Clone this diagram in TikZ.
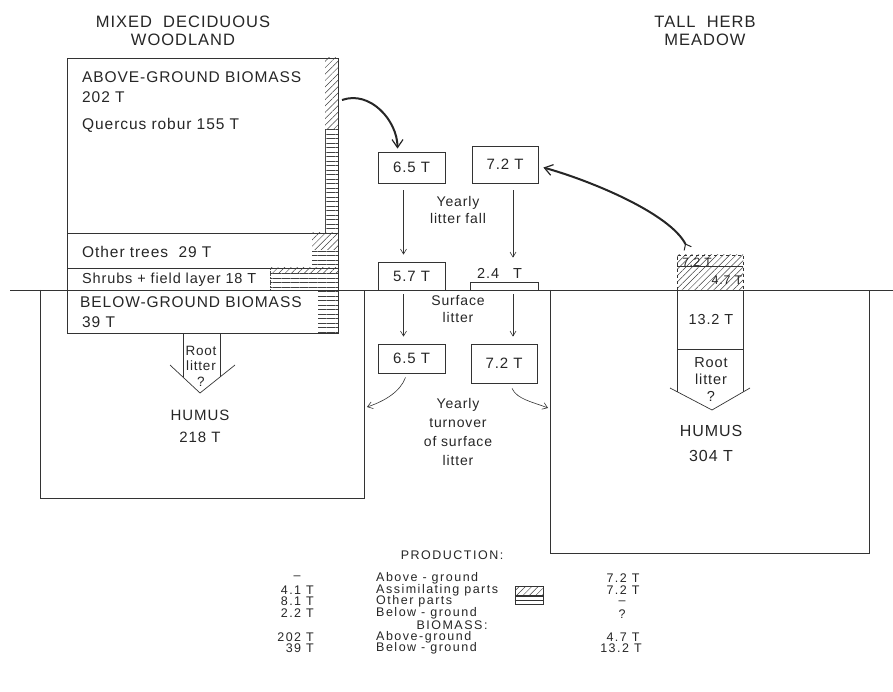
\documentclass[tikz,border=0pt]{standalone}
\usepackage{fontspec}
\setmainfont[LetterSpace=6]{Liberation Sans}
\newfontfamily\legendfont[LetterSpace=12]{Liberation Sans}
\usetikzlibrary{arrows.meta,patterns.meta}

\begin{document}
\begin{tikzpicture}[
  x=1pt, y=-1pt,
  every node/.style={inner sep=0pt, text=black!85},
  title/.style={font=\fontsize{16.5}{18}\selectfont, align=center},
  lbl/.style={font=\fontsize{15.5}{18}\selectfont, anchor=west},
  midlbl/.style={font=\fontsize{14}{17}\selectfont, align=center},
  flux/.style={draw=black!80, line width=0.8pt, minimum width=67pt,
    font=\fontsize{15}{18}\selectfont},
  box/.style={draw=black!80, line width=0.7pt},
  fall/.style={draw=black!80, line width=0.6pt,
    -{Straight Barb[length=5pt,width=6pt]}},
  turn/.style={draw=black!80, line width=0.6pt,
    -{Straight Barb[length=5pt,width=7pt]}},
  bigflow/.style={draw=black!85, line width=2pt,
    -{Straight Barb[length=8pt,width=11pt,line width=1.2pt]}},
  diag/.style={pattern={Lines[angle=45,distance=4.5pt,line width=0.5pt]},
    pattern color=black!75},
  bars/.style={pattern={Lines[angle=0,distance=4.5pt,line width=0.5pt]},
    pattern color=black!75},
  leg/.style={font=\legendfont\fontsize{12.5}{14}\selectfont}
]
\useasboundingbox (0,0) rectangle (893,692);

% ---- Titles ----
\node[title] (tWood) at (183,31) {MIXED\ \ DECIDUOUS\\WOODLAND};
\node[title] (tMead) at (705,31) {TALL\ \ HERB\\MEADOW};

% ground surface
\draw[box] (10,290) -- (893,290);

% ---- LEFT: woodland ----
% biomass box
\draw[box] (67,58) rectangle (338,333);
\draw[box] (67,233) -- (338,233);
\draw[box] (67,268) -- (338,268);

% hatched strip on the right
\fill[diag] (325,58) rectangle (338,130);
\fill[bars] (325,130) rectangle (338,233);
\draw[black!70, line width=0.4pt] (325,130) -- (325,233);
\fill[diag] (312,233) rectangle (338,250);
\fill[bars] (312,250) rectangle (338,268);
\draw[black!70, line width=0.5pt, densely dotted] (270,268) -- (270,290);
\fill[diag] (270,268) rectangle (338,274);
\fill[bars] (270,274) rectangle (338,290);
\fill[bars] (318,290) rectangle (338,333);

\node[lbl] (abvW) at (82,77) {ABOVE-GROUND BIOMASS};
\node[lbl] (abvWval) at (82,97) {202 T};
\node[lbl] (quer) at (82,125) {Quercus robur 155 T};
\node[lbl] (othT) at (82,252) {Other trees\ \ 29 T};
\node[lbl, font=\fontsize{14.5}{17}\selectfont] (shrb) at (82,280)
  {Shrubs + field layer 18 T};
\node[lbl] (belW) at (80,302) {BELOW-GROUND BIOMASS};
\node[lbl] (belWval) at (82,322) {39 T};

% humus box
\draw[box] (40,290) -- (40,498) -- (364,498) -- (364,290);

% root litter arrow
\draw[box] (183,333) -- (183,377);
\draw[box] (220,333) -- (220,377);
\draw[box] (170,365) -- (200,393) -- (235,365);
\node[midlbl, font=\fontsize{13.5}{15.5}\selectfont] (rootW) at (201,366)
  {Root\\litter\\?};

\node[midlbl, font=\fontsize{15}{18}\selectfont] (humW) at (200,415) {HUMUS};
\node[midlbl, font=\fontsize{15}{18}\selectfont] (humWval) at (200,437) {218 T};
\coordinate (wStrip) at (342,100);
\coordinate (wHum) at (367,407);

% ---- Middle: litter fluxes ----
\node[flux, minimum height=31pt] (lfA) at (411.5,167.5) {6.5 T};
\node[flux, minimum width=66pt, minimum height=37pt] (lfB) at (505,164.5) {7.2 T};
\node[midlbl] (yLit) at (458,210) {Yearly\\litter fall};

\node[flux, minimum height=28pt] (slA) at (411.5,276) {5.7 T};
\node[box, minimum width=68pt, minimum height=8pt] (plat) at (504,286) {};
\node[anchor=west, font=\fontsize{14.5}{17}\selectfont] (slB) at (477,273)
  {2.4\hspace{14pt}T};
\node[midlbl, font=\fontsize{14}{17}\selectfont] (sLit) at (458,309.5)
  {Surface\\litter};

\node[flux, minimum height=29pt] (tnA) at (411.5,358.5) {6.5 T};
\node[flux, minimum width=66pt, minimum height=39pt] (tnB) at (504,363.5) {7.2 T};
\node[midlbl, font=\fontsize{14}{19.3}\selectfont] (yTurn) at (458,432)
  {Yearly\\turnover\\of surface\\litter};

\draw[fall] ([xshift=-8pt,yshift=-7pt]lfA.south) -- ([xshift=-8pt,yshift=7pt]slA.north);
\draw[fall] ([xshift=8pt,yshift=-7pt]lfB.south) -- ([xshift=9pt,yshift=24pt]plat.north);
\draw[fall] ([xshift=-8pt,yshift=-4pt]slA.south) -- ([xshift=-8pt,yshift=7pt]tnA.north);
\draw[fall] ([xshift=9pt,yshift=-4pt]plat.south) -- ([xshift=9pt,yshift=7pt]tnB.north);

% ---- RIGHT: meadow ----
\draw[box] (550,290) -- (550,553) -- (869,553) -- (869,290);

% above-ground column
\fill[diag] (677,255) rectangle (743,290);
\draw[box, dashed] (677,290) -- (677,255) -- (743,255) -- (743,290);
\draw[box] (677,266) -- (743,266);
\node[font=\fontsize{12}{14}\selectfont] (mAbvP) at (697,262) {7.2 T};
\node[font=\fontsize{12.5}{14}\selectfont] (mAbvB) at (727,280) {4.7 T};

% below-ground column and root litter arrow
\draw[box] (677,290) -- (677,392);
\draw[box] (743,290) -- (743,392);
\draw[box] (677,349) -- (743,349);
\draw[box] (670,388) -- (712,410) -- (750,388);
\node[font=\fontsize{14.5}{17}\selectfont] (mBel) at (711,320) {13.2 T};
\node[midlbl, font=\fontsize{14.5}{17}\selectfont] (rootM) at (711,380)
  {Root\\litter\\?};

\node[midlbl, font=\fontsize{16}{18}\selectfont] (humM) at (711,431) {HUMUS};
\node[midlbl, font=\fontsize{16}{18}\selectfont] (humMval) at (711,456) {304 T};
\coordinate (mTop) at (688,249);
\coordinate (mHum) at (548,408);

% ---- Flows ----
\draw[bigflow] (wStrip) .. controls +(28,-10) and +(0,-28) ..
  ([xshift=-14pt,yshift=3pt]lfA.north);
\draw[bigflow, {Straight Barb[reversed,length=5pt,width=8pt,line width=1pt]}-{Straight Barb[length=8pt,width=11pt,line width=1.2pt]}]
  (mTop) .. controls +(-18,-35) and +(50,14) .. ([xshift=5pt,yshift=-3pt]lfB.east);
\draw[turn] ([xshift=-6pt,yshift=-4pt]tnA.south) .. controls +(-5,14) and +(18,-6) .. (wHum);
\draw[turn] ([xshift=8pt,yshift=-5pt]tnB.south) .. controls +(5,11) and +(-15,-6) .. (mHum);

% ---- Legend ----
\node[leg] (prodH) at (452,555) {PRODUCTION:};
\node[leg] (pAv) at (297,578) {–};
\node[leg, anchor=east] (pAsv) at (314,590) {4.1 T};
\node[leg, anchor=east] (pOtv) at (314,601.5) {8.1 T};
\node[leg, anchor=east] (pBev) at (314,613) {2.2 T};
\node[leg, anchor=west] (pAb) at (376,578) {Above - ground};
\node[leg, anchor=west] (pAs) at (376,590) {Assimilating parts};
\node[leg, anchor=west] (pOt) at (376,601.5) {Other parts};
\node[leg, anchor=west] (pBe) at (376,613) {Below - ground};
\node[leg] (pAm) at (623,578) {7.2 T};
\node[leg] (pAsm) at (623,590) {7.2 T};
\node[leg] (pOtm) at (622,603) {–};
\node[leg] (pBem) at (622,614) {?};

\node[draw=black!80, line width=0.6pt, diag, minimum width=28pt, minimum height=9pt]
  (swA) at (529,591) {};
\node[draw=black!80, line width=0.6pt, minimum width=28pt, minimum height=8pt]
  (swB) at (529,600.5) {};
\draw[black!80, line width=0.6pt] (swB.west) -- (swB.east);

\node[leg] (bioH) at (452,625) {BIOMASS:};
\node[leg, anchor=east] (bAbv) at (314,637) {202 T};
\node[leg, anchor=east] (bBev) at (314,648) {39 T};
\node[leg, anchor=west] (bAb) at (376,637) {Above-ground};
\node[leg, anchor=west] (bBe) at (376,648) {Below - ground};
\node[leg] (bAm) at (623,637) {4.7 T};
\node[leg] (bBem) at (621,648) {13.2 T};
\end{tikzpicture}
\end{document}
